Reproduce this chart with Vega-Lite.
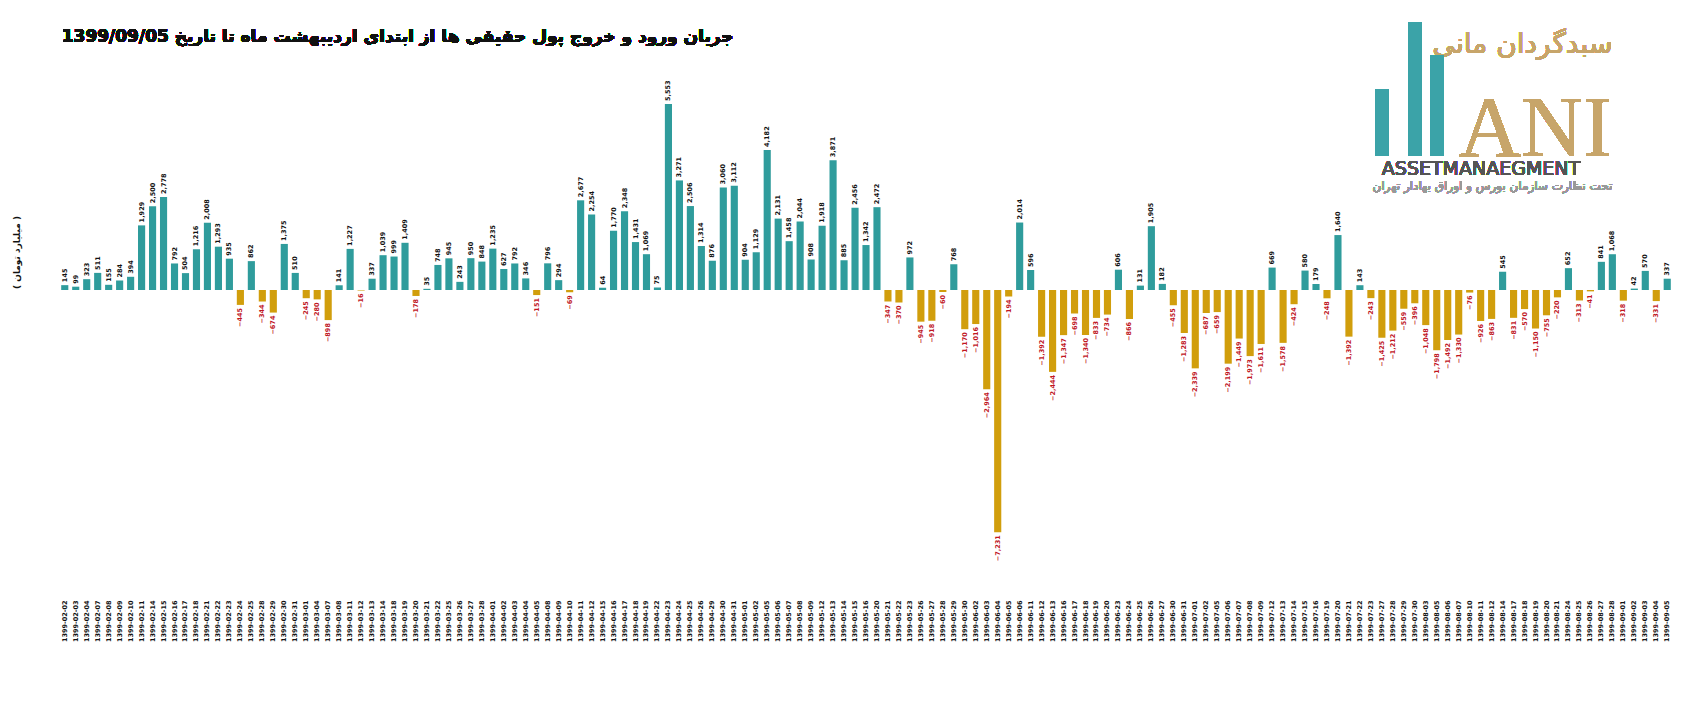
{
  "$schema": "https://vega.github.io/schema/vega-lite/v6.json",
  "width": 1614,
  "height": 469,
  "autosize": {"type": "none"},
  "padding": {"left": 59, "top": 89, "right": 9, "bottom": 143},
  "background": "white",
  "config": {"view": {"stroke": null}, "font": "DejaVu Sans"},
  "data": {
    "values": [
      {"d":"1399-02-02","v":145},{"d":"1399-02-03","v":99},{"d":"1399-02-04","v":323},{"d":"1399-02-07","v":511},{"d":"1399-02-08","v":155},
      {"d":"1399-02-09","v":284},{"d":"1399-02-10","v":394},{"d":"1399-02-11","v":1929},{"d":"1399-02-14","v":2500},{"d":"1399-02-15","v":2778},
      {"d":"1399-02-16","v":792},{"d":"1399-02-17","v":504},{"d":"1399-02-18","v":1216},{"d":"1399-02-21","v":2008},{"d":"1399-02-22","v":1293},
      {"d":"1399-02-23","v":935},{"d":"1399-02-24","v":-445},{"d":"1399-02-25","v":862},{"d":"1399-02-28","v":-344},{"d":"1399-02-29","v":-674},
      {"d":"1399-02-30","v":1375},{"d":"1399-02-31","v":510},{"d":"1399-03-01","v":-245},{"d":"1399-03-04","v":-280},{"d":"1399-03-07","v":-898},
      {"d":"1399-03-08","v":141},{"d":"1399-03-11","v":1227},{"d":"1399-03-12","v":-16},{"d":"1399-03-13","v":337},{"d":"1399-03-14","v":1039},
      {"d":"1399-03-18","v":999},{"d":"1399-03-19","v":1409},{"d":"1399-03-20","v":-178},{"d":"1399-03-21","v":35},{"d":"1399-03-22","v":748},
      {"d":"1399-03-25","v":945},{"d":"1399-03-26","v":243},{"d":"1399-03-27","v":950},{"d":"1399-03-28","v":848},{"d":"1399-04-01","v":1235},
      {"d":"1399-04-02","v":627},{"d":"1399-04-03","v":792},{"d":"1399-04-04","v":346},{"d":"1399-04-05","v":-151},{"d":"1399-04-08","v":796},
      {"d":"1399-04-09","v":294},{"d":"1399-04-10","v":-69},{"d":"1399-04-11","v":2677},{"d":"1399-04-12","v":2254},{"d":"1399-04-15","v":64},
      {"d":"1399-04-16","v":1770},{"d":"1399-04-17","v":2348},{"d":"1399-04-18","v":1431},{"d":"1399-04-19","v":1069},{"d":"1399-04-22","v":75},
      {"d":"1399-04-23","v":5553},{"d":"1399-04-24","v":3271},{"d":"1399-04-25","v":2506},{"d":"1399-04-26","v":1314},{"d":"1399-04-29","v":876},
      {"d":"1399-04-30","v":3060},{"d":"1399-04-31","v":3112},{"d":"1399-05-01","v":904},{"d":"1399-05-02","v":1129},{"d":"1399-05-05","v":4182},
      {"d":"1399-05-06","v":2131},{"d":"1399-05-07","v":1458},{"d":"1399-05-08","v":2044},{"d":"1399-05-09","v":908},{"d":"1399-05-12","v":1918},
      {"d":"1399-05-13","v":3871},{"d":"1399-05-14","v":885},{"d":"1399-05-15","v":2456},{"d":"1399-05-16","v":1342},{"d":"1399-05-20","v":2472},
      {"d":"1399-05-21","v":-347},{"d":"1399-05-22","v":-370},{"d":"1399-05-23","v":972},{"d":"1399-05-26","v":-945},{"d":"1399-05-27","v":-918},
      {"d":"1399-05-28","v":-60},{"d":"1399-05-29","v":768},{"d":"1399-05-30","v":-1170},{"d":"1399-06-02","v":-1016},{"d":"1399-06-03","v":-2964},
      {"d":"1399-06-04","v":-7231},{"d":"1399-06-05","v":-194},{"d":"1399-06-06","v":2014},{"d":"1399-06-11","v":596},{"d":"1399-06-12","v":-1392},
      {"d":"1399-06-13","v":-2444},{"d":"1399-06-16","v":-1347},{"d":"1399-06-17","v":-698},{"d":"1399-06-18","v":-1340},{"d":"1399-06-19","v":-833},
      {"d":"1399-06-20","v":-734},{"d":"1399-06-23","v":606},{"d":"1399-06-24","v":-866},{"d":"1399-06-25","v":131},{"d":"1399-06-26","v":1905},
      {"d":"1399-06-27","v":182},{"d":"1399-06-30","v":-455},{"d":"1399-06-31","v":-1283},{"d":"1399-07-01","v":-2339},{"d":"1399-07-02","v":-687},
      {"d":"1399-07-05","v":-659},{"d":"1399-07-06","v":-2199},{"d":"1399-07-07","v":-1449},{"d":"1399-07-08","v":-1973},{"d":"1399-07-09","v":-1611},
      {"d":"1399-07-12","v":669},{"d":"1399-07-13","v":-1578},{"d":"1399-07-14","v":-424},{"d":"1399-07-15","v":580},{"d":"1399-07-16","v":179},
      {"d":"1399-07-19","v":-248},{"d":"1399-07-20","v":1640},{"d":"1399-07-21","v":-1392},{"d":"1399-07-22","v":143},{"d":"1399-07-23","v":-243},
      {"d":"1399-07-27","v":-1425},{"d":"1399-07-28","v":-1212},{"d":"1399-07-29","v":-559},{"d":"1399-07-30","v":-396},{"d":"1399-08-03","v":-1048},
      {"d":"1399-08-05","v":-1798},{"d":"1399-08-06","v":-1492},{"d":"1399-08-07","v":-1330},{"d":"1399-08-10","v":-76},{"d":"1399-08-11","v":-926},
      {"d":"1399-08-12","v":-863},{"d":"1399-08-14","v":545},{"d":"1399-08-17","v":-831},{"d":"1399-08-18","v":-570},{"d":"1399-08-19","v":-1150},
      {"d":"1399-08-20","v":-755},{"d":"1399-08-21","v":-220},{"d":"1399-08-24","v":652},{"d":"1399-08-25","v":-313},{"d":"1399-08-26","v":-41},
      {"d":"1399-08-27","v":841},{"d":"1399-08-28","v":1068},{"d":"1399-09-01","v":-318},{"d":"1399-09-02","v":42},{"d":"1399-09-03","v":570},
      {"d":"1399-09-04","v":-331},{"d":"1399-09-05","v":337}
    ]
  },
  "encoding": {
    "x": {
      "field": "d", "type": "ordinal", "sort": null,
      "scale": {"paddingInner": 0.35, "paddingOuter": 0.2},
      "axis": {
        "title": null, "labelAngle": -90, "labelFontSize": 6.5, "labelFontWeight": "bold",
        "labelColor": "#111", "ticks": false, "domain": false, "labelPadding": 42, "labelAlign": "right"
      }
    },
    "y": {
      "field": "v", "type": "quantitative",
      "scale": {"domain": [-8000, 6000], "nice": false},
      "axis": {
        "title": "( میلیارد تومان )", "titleFontSize": 9, "titleFontWeight": "bold", "titleColor": "#111",
        "titleX": -38, "titleY": 163, "labels": false, "ticks": false, "domain": false, "grid": false
      }
    }
  },
  "layer": [
    {
      "mark": {"type": "bar"},
      "encoding": {
        "color": {
          "condition": {"test": "datum.v >= 0", "value": "#2F9C9C"},
          "value": "#D19E0C"
        }
      }
    },
    {
      "mark": {"type": "rule", "color": "#cfe3ee", "strokeWidth": 1},
      "encoding": {"y": {"datum": 0}}
    },
    {
      "transform": [{"filter": "datum.v >= 0"}],
      "mark": {"type": "text", "angle": 270, "align": "left", "baseline": "middle", "dx": 3, "fontSize": 6.5, "fontWeight": "bold", "color": "#111"},
      "encoding": {"text": {"field": "v", "type": "quantitative", "format": ",.0f"}}
    },
    {
      "transform": [{"filter": "datum.v < 0"}],
      "mark": {"type": "text", "angle": 270, "align": "right", "baseline": "middle", "dx": -3, "fontSize": 6.5, "fontWeight": "bold", "color": "#C0161F"},
      "encoding": {"text": {"field": "v", "type": "quantitative", "format": ",.0f"}}
    },
    {
      "mark": {"type": "text", "align": "left", "baseline": "middle", "dx": -3, "fontSize": 17, "fontWeight": "bold", "font": "DejaVu Sans", "color": "#111"},
      "encoding": {"x": {"datum": "1399-02-02"}, "y": {"datum": 7550}, "text": {"value": "جریان ورود و خروج پول حقیقی ها از ابتدای اردیبهشت ماه تا تاریخ 1399/09/05"}}
    },
    {
      "mark": {"type": "text", "align": "right", "baseline": "middle", "fontSize": 28, "font": "DejaVu Sans", "color": "#C7A56A"},
      "encoding": {"x": {"datum": "1399-08-28"}, "y": {"datum": 7300}, "text": {"value": "سبدگردان مانی"}}
    },
    {
      "mark": {"type": "text", "align": "left", "baseline": "alphabetic", "fontSize": 86, "font": "Liberation Serif", "color": "#C7A56A"},
      "encoding": {"x": {"datum": "1399-08-07"}, "y": {"datum": 4000}, "text": {"value": "ANI"}}
    },
    {
      "mark": {"type": "bar", "color": "#3BA3A8", "width": 13},
      "encoding": {"x": {"datum": "1399-07-27"}, "y": {"datum": 4000}, "y2": {"datum": 6000}}
    },
    {
      "mark": {"type": "bar", "color": "#3BA3A8", "width": 13},
      "encoding": {"x": {"datum": "1399-07-30"}, "y": {"datum": 4000}, "y2": {"datum": 8000}}
    },
    {
      "mark": {"type": "bar", "color": "#3BA3A8", "width": 13},
      "encoding": {"x": {"datum": "1399-08-05"}, "y": {"datum": 4000}, "y2": {"datum": 7000}}
    },
    {
      "mark": {"type": "text", "align": "left", "baseline": "middle", "fontSize": 19, "font": "DejaVu Sans", "color": "#555"},
      "encoding": {"x": {"datum": "1399-07-27"}, "y": {"datum": 3600}, "text": {"value": "ASSETMANAEGMENT"}}
    },
    {
      "mark": {"type": "text", "align": "right", "baseline": "middle", "fontSize": 12, "font": "DejaVu Sans", "color": "#999"},
      "encoding": {"x": {"datum": "1399-08-28"}, "y": {"datum": 3100}, "text": {"value": "تحت نظارت سازمان بورس و اوراق بهادار تهران"}}
    }
  ]
}
